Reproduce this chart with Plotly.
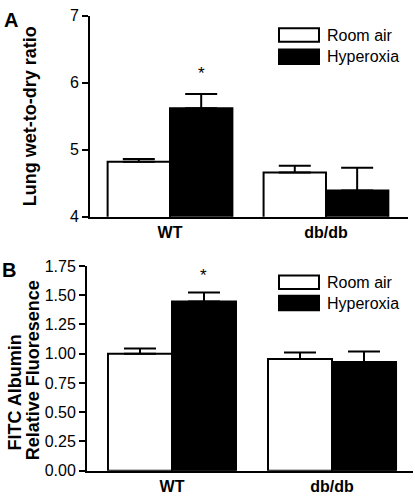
import plotly.graph_objects as go

groups = ["WT", "db/db"]
series = ["Room air", "Hyperoxia"]

# Panel A: lung wet-to-dry ratio
a_room = [4.82, 4.66]
a_room_err = [0.04, 0.10]
a_hyp = [5.62, 4.39]
a_hyp_err = [0.21, 0.34]

# Panel B: FITC albumin relative fluorescence
b_room = [1.00, 0.955]
b_room_err = [0.045, 0.055]
b_hyp = [1.447, 0.928]
b_hyp_err = [0.075, 0.09]

a_ticks = [4, 5, 6, 7]
b_ticks = [0.0, 0.25, 0.5, 0.75, 1.0, 1.25, 1.5, 1.75]

FONT = "Liberation Sans, Arial, Helvetica, sans-serif"
W, H = 415, 500
xpos = [0, 1]

fig = go.Figure()

def add_bars(xa, ya, room, room_err, hyp, hyp_err):
    fig.add_trace(go.Bar(
        x=xpos, y=room, name=series[0], xaxis=xa, yaxis=ya,
        marker=dict(color="white", line=dict(color="black", width=2)),
        error_y=dict(type="data", array=room_err, arrayminus=[0, 0], symmetric=False,
                     color="black", thickness=2, width=16),
        offsetgroup="0", showlegend=False))
    fig.add_trace(go.Bar(
        x=xpos, y=hyp, name=series[1], xaxis=xa, yaxis=ya,
        marker=dict(color="black", line=dict(color="black", width=2)),
        error_y=dict(type="data", array=hyp_err, arrayminus=[0, 0], symmetric=False,
                     color="black", thickness=2, width=16),
        offsetgroup="1", showlegend=False))

add_bars("x", "y", a_room, a_room_err, a_hyp, a_hyp_err)
add_bars("x2", "y2", b_room, b_room_err, b_hyp, b_hyp_err)

def px_x(p):
    return p / W

def px_y(p):
    return 1 - p / H

xcommon = dict(tickmode="array", tickvals=xpos, ticktext=groups, showline=True,
               linecolor="black", linewidth=2, ticks="", showgrid=False, zeroline=False,
               tickfont=dict(family=FONT, size=16, color="black", weight="bold"), fixedrange=True)
ycommon = dict(showline=True, linecolor="black", linewidth=2, ticks="outside", ticklen=6,
               tickwidth=2, tickcolor="black", showgrid=False, zeroline=False,
               tickfont=dict(family=FONT, size=16, color="black"), fixedrange=True)

fig.update_layout(
    width=W, height=H, autosize=False,
    margin=dict(l=0, r=0, t=0, b=0),
    paper_bgcolor="white", plot_bgcolor="white",
    barmode="group", bargap=0.2, bargroupgap=0,
    xaxis=dict(domain=[px_x(90), px_x(408)], range=[-0.513, 1.526], anchor="y", **xcommon),
    yaxis=dict(domain=[px_y(216), px_y(8)], range=[4, 7], tickvals=a_ticks,
               ticktext=[str(t) for t in a_ticks], anchor="x", **ycommon),
    xaxis2=dict(domain=[px_x(87), px_x(413)], range=[-0.531, 1.506], anchor="y2", **xcommon),
    yaxis2=dict(domain=[px_y(479), px_y(267)], range=[0, 1.75], tickvals=b_ticks,
                ticktext=["%.2f" % t for t in b_ticks], anchor="x2", **ycommon),
    font=dict(family=FONT, color="black"),
)

shapes = []
annotations = []

def legend(y_room, y_hyp):
    for (t, b), fill, label in [(y_room, "white", series[0]), (y_hyp, "black", series[1])]:
        shapes.append(dict(type="rect", xref="paper", yref="paper",
                           x0=px_x(279), x1=px_x(319), y0=px_y(b), y1=px_y(t),
                           fillcolor=fill, line=dict(color="black", width=2)))
        annotations.append(dict(text=label, xref="paper", yref="paper",
                                x=px_x(325), y=px_y((t + b) / 2), xanchor="left", yanchor="middle",
                                showarrow=False, font=dict(family=FONT, size=16, color="black")))

legend((21, 35), (43, 58))
legend((277, 291), (298, 313))

# Significance stars
annotations.append(dict(text="*", xref="x", yref="y", x=0.2, y=5.96, xanchor="center",
                        yanchor="bottom", showarrow=False, font=dict(family=FONT, size=17, color="black")))
annotations.append(dict(text="*", xref="x2", yref="y2", x=0.2, y=1.57, xanchor="center",
                        yanchor="bottom", showarrow=False, font=dict(family=FONT, size=17, color="black")))

# Panel letters
annotations.append(dict(text="A", xref="paper", yref="paper", x=px_x(11), y=px_y(12),
                        xanchor="center", yanchor="middle", showarrow=False,
                        font=dict(family=FONT, size=20, color="black", weight="bold")))
annotations.append(dict(text="B", xref="paper", yref="paper", x=px_x(9), y=px_y(271),
                        xanchor="center", yanchor="middle", showarrow=False,
                        font=dict(family=FONT, size=20, color="black", weight="bold")))

# Y titles
annotations.append(dict(text="Lung wet-to-dry ratio", xref="paper", yref="paper",
                        x=px_x(30), y=px_y(112), xanchor="center", yanchor="middle",
                        textangle=-90, showarrow=False,
                        font=dict(family=FONT, size=18, color="black", weight="bold")))
annotations.append(dict(text="FITC Albumin", xref="paper", yref="paper",
                        x=px_x(15), y=px_y(398), xanchor="center", yanchor="middle",
                        textangle=-90, showarrow=False,
                        font=dict(family=FONT, size=18, color="black", weight="bold")))
annotations.append(dict(text="Relative Fluoresence", xref="paper", yref="paper",
                        x=px_x(33), y=px_y(375), xanchor="center", yanchor="middle",
                        textangle=-90, showarrow=False,
                        font=dict(family=FONT, size=18, color="black", weight="bold")))

fig.update_layout(shapes=shapes, annotations=annotations)

fig.write_html("out.html", config={"displayModeBar": False},
               post_script="document.body.style.margin='0px';")
